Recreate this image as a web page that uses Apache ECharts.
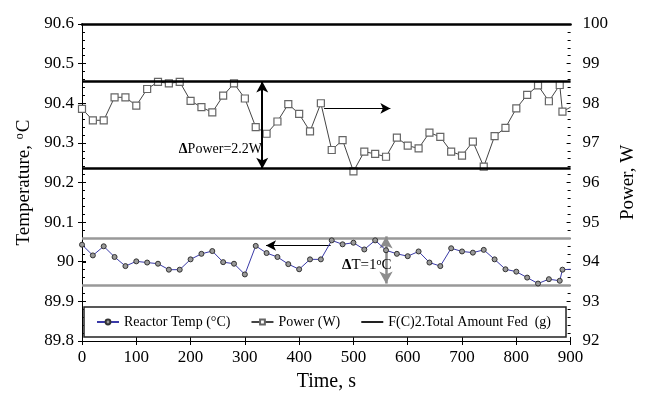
<!DOCTYPE html>
<html>
<head>
<meta charset="utf-8">
<script src="https://cdn.jsdelivr.net/npm/echarts@6/dist/echarts.min.js"></script>
<style>
  html, body { margin: 0; padding: 0; background: #fff; }
  #chart { width: 646px; height: 397px; }
</style>
</head>
<body>
<div id="chart"></div>
<script>
// Sample times (s)
const times = [0, 20, 40, 60, 80, 100, 120, 140, 160, 180,
  200, 220, 240, 260, 280, 300, 320, 340, 360, 380,
  400, 420, 440, 460, 480, 500, 520, 540, 560, 580,
  600, 620, 640, 660, 680, 700, 720, 740, 760, 780,
  800, 820, 840, 860, 880, 885, 900];

// Reactor temperature (°C), left axis
const reactorTemp = [90.043, 90.016, 90.039, 90.012, 89.989, 90.001, 89.998, 89.995, 89.980, 89.980,
  90.006, 90.020, 90.027, 89.999, 89.995, 89.968, 90.040, 90.022, 90.012, 89.994,
  89.981, 90.006, 90.006, 90.054, 90.044, 90.048, 90.031, 90.054, 90.029, 90.020,
  90.014, 90.026, 89.998, 89.989, 90.034, 90.026, 90.023, 90.030, 90.006, 89.981,
  89.975, 89.960, 89.945, 89.956, 89.952, 89.980, 89.981];

// Heater power (W), right axis
const power = [97.86, 97.57, 97.57, 98.15, 98.15, 97.94, 98.36, 98.54, 98.50, 98.54,
  98.06, 97.90, 97.77, 98.19, 98.50, 98.12, 97.40, 97.23, 97.54, 97.98,
  97.73, 97.29, 98.00, 96.82, 97.07, 96.28, 96.78, 96.72, 96.65, 97.13,
  96.93, 96.86, 97.26, 97.15, 96.78, 96.68, 97.03, 96.40, 97.17, 97.38,
  97.87, 98.21, 98.45, 98.05, 98.46, 97.79, 97.90];

// Tick labels
const timeTickLabels = ['0', '100', '200', '300', '400', '500', '600', '700', '800', '900'];
const tempTickLabels = ['89.8', '89.9', '90', '90.1', '90.2', '90.3', '90.4', '90.5', '90.6'];
const powerTickLabels = ['92', '93', '94', '95', '96', '97', '98', '99', '100'];

// Band limits
const powerBand = [98.55, 96.35];   // W
const tempBand = [90.064, 89.945];  // °C

// Annotation arrows: [from time, to time, level]
const powerPointer = [446, 568, 97.87];
const tempPointer = [458, 339, 90.041];
const powerSpanTime = 332;
const tempSpanTime = 560;

const seriesNames = ['Reactor Temp (°C)', 'Power (W)', 'F(C)2.Total Amount Fed  (g)'];

const FONT = 'Liberation Serif';

const tempData = times.map((t, i) => i === times.length - 1
  ? { value: [t, reactorTemp[i]], symbol: 'none' }
  : [t, reactorTemp[i]]);
const powerData = times.map((t, i) => i === times.length - 1
  ? { value: [t, power[i]], symbol: 'none' }
  : [t, power[i]]);

const chart = echarts.init(document.getElementById('chart'), null, { renderer: 'canvas' });

const tickColor = '#000';

const option = {
  animation: false,
  backgroundColor: '#fff',
  grid: { left: 82, right: 57, top: 24, bottom: 52, containLabel: false },
  legend: {
    data: [
      { name: seriesNames[0] },
      { name: seriesNames[1] },
      { name: seriesNames[2], itemStyle: { opacity: 0 } }
    ],
    left: 84,
    top: 307,
    itemWidth: 22,
    itemHeight: 6,
    itemGap: 20,
    padding: [8, 15, 8, 12],
    borderColor: '#222',
    borderWidth: 1.5,
    backgroundColor: '#fff',
    textStyle: { fontFamily: FONT, fontSize: 14, color: '#000' }
  },
  xAxis: [
    {
      type: 'value', min: 0, max: 900, interval: 100, position: 'bottom',
      axisLine: { lineStyle: { color: tickColor, width: 1 } },
      axisTick: { show: true, length: 4, lineStyle: { color: tickColor } },
      axisLabel: {
        fontFamily: FONT, fontSize: 17, color: '#000', margin: 8,
        formatter: v => timeTickLabels[Math.round(v / 100)]
      },
      splitLine: { show: false },
      name: 'Time, s', nameLocation: 'middle', nameGap: 31,
      nameTextStyle: { fontFamily: FONT, fontSize: 20, color: '#000' }
    },
    {
      type: 'value', min: 0, max: 900, interval: 100, position: 'bottom',
      axisLine: { show: false },
      axisTick: { show: true, inside: true, length: 4, lineStyle: { color: tickColor } },
      axisLabel: { show: false }, splitLine: { show: false }
    },
    {
      type: 'value', min: 0, max: 900, interval: 100, position: 'top',
      axisLine: { lineStyle: { color: '#000', width: 2.5 } },
      axisTick: { show: false }, axisLabel: { show: false }, splitLine: { show: false }
    }
  ],
  yAxis: [
    {
      type: 'value', min: 89.8, max: 90.6, interval: 0.1, position: 'left',
      axisLine: { show: true, lineStyle: { color: tickColor, width: 1 } },
      axisTick: { show: true, length: 4, lineStyle: { color: tickColor } },
      axisLabel: {
        fontFamily: FONT, fontSize: 17, color: '#000', margin: 8,
        formatter: v => tempTickLabels[Math.round((v - 89.8) / 0.1)]
      },
      splitLine: { show: false },
      name: '{n|Temperature, }{s|o}{n|C}', nameLocation: 'middle', nameGap: 45, nameRotate: 90,
      nameTextStyle: {
        fontFamily: FONT, fontSize: 19, color: '#000',
        rich: {
          n: { fontFamily: FONT, fontSize: 19, color: '#000' },
          s: { fontFamily: FONT, fontSize: 12, color: '#000', verticalAlign: 'top', padding: [0, 1, 8, 1] }
        }
      }
    },
    {
      type: 'value', min: 92, max: 100, interval: 1, position: 'right',
      axisLine: { show: true, lineStyle: { color: tickColor, width: 1 } },
      axisTick: { show: true, length: 4, lineStyle: { color: tickColor } },
      axisLabel: {
        fontFamily: FONT, fontSize: 17, color: '#000', margin: 12,
        formatter: v => powerTickLabels[Math.round(v - 92)]
      },
      splitLine: { show: false },
      name: 'Power, W', nameLocation: 'middle', nameGap: 38, nameRotate: 90,
      nameTextStyle: { fontFamily: FONT, fontSize: 19, color: '#000' }
    },
    {
      type: 'value', min: 89.8, max: 90.6, interval: 0.1, position: 'left',
      axisLine: { show: false },
      axisTick: { show: true, inside: true, length: 4, lineStyle: { color: tickColor } },
      minorTick: { show: true, splitNumber: 5, length: 3, lineStyle: { color: tickColor } },
      axisLabel: { show: false }, splitLine: { show: false }
    },
    {
      type: 'value', min: 92, max: 100, interval: 1, position: 'right',
      axisLine: { show: false },
      axisTick: { show: true, inside: true, length: 4, lineStyle: { color: tickColor } },
      minorTick: { show: true, splitNumber: 5, length: 3, lineStyle: { color: tickColor } },
      axisLabel: { show: false }, splitLine: { show: false }
    }
  ],
  graphic: [
    {
      type: 'text', x: 262, y: 149, z: 50,
      style: {
        text: '{d|Δ}Power=' + (powerBand[0] - powerBand[1]).toFixed(1) + 'W',
        align: 'right', verticalAlign: 'middle',
        font: '14px "Liberation Serif"', fill: '#000',
        rich: {
          d: { fontFamily: FONT, fontSize: 14, fontWeight: 'bold', fill: '#000' }
        }
      }
    },
    {
      type: 'text', x: 342, y: 265, z: 50,
      style: {
        text: '{d|Δ}T=1{s|o}C',
        align: 'left', verticalAlign: 'middle',
        font: '15px "Liberation Serif"', fill: '#000',
        rich: {
          d: { fontFamily: FONT, fontSize: 15, fontWeight: 'bold', fill: '#000' },
          s: { fontFamily: FONT, fontSize: 10, fill: '#000', verticalAlign: 'top', padding: [0, 0, 6, 0] }
        }
      }
    }
  ],
  series: [
    {
      name: seriesNames[0], type: 'line', xAxisIndex: 0, yAxisIndex: 0,
      data: tempData,
      symbol: 'circle', symbolSize: 5,
      lineStyle: { color: '#3a3aa8', width: 1 },
      itemStyle: { color: '#9a9a9a', borderColor: '#333', borderWidth: 1 },
      z: 5,
      markLine: {
        silent: true, symbol: ['none', 'none'], label: { show: false },
        data: [
          { yAxis: tempBand[0], lineStyle: { color: '#999', width: 2.5, type: 'solid' } },
          { yAxis: tempBand[1], lineStyle: { color: '#999', width: 2.5, type: 'solid' } },
          [
            { coord: [tempPointer[0], tempPointer[2]], symbol: 'none' },
            { coord: [tempPointer[1], tempPointer[2]], symbol: 'arrow', symbolSize: [8, 10] }
          ].map(p => Object.assign(p, { lineStyle: { color: '#000', width: 1, type: 'solid' } })),
          [
            { coord: [tempSpanTime, tempBand[0]], symbol: 'arrow', symbolSize: [10, 12] },
            { coord: [tempSpanTime, tempBand[1]], symbol: 'arrow', symbolSize: [10, 12] }
          ].map(p => Object.assign(p, { lineStyle: { color: '#8c8c8c', width: 2.5, type: 'solid' } }))
        ]
      }
    },
    {
      name: seriesNames[1], type: 'line', xAxisIndex: 0, yAxisIndex: 1,
      data: powerData,
      symbol: 'rect', symbolSize: 7,
      lineStyle: { color: '#444', width: 1 },
      itemStyle: { color: '#fff', borderColor: '#666', borderWidth: 1.2 },
      z: 4,
      markLine: {
        silent: true, symbol: ['none', 'none'], label: { show: false },
        data: [
          { yAxis: powerBand[0], lineStyle: { color: '#000', width: 2.5, type: 'solid' } },
          { yAxis: powerBand[1], lineStyle: { color: '#000', width: 2.5, type: 'solid' } },
          [
            { coord: [powerPointer[0], powerPointer[2]], symbol: 'none' },
            { coord: [powerPointer[1], powerPointer[2]], symbol: 'arrow', symbolSize: [8, 10] }
          ].map(p => Object.assign(p, { lineStyle: { color: '#000', width: 1, type: 'solid' } })),
          [
            { coord: [powerSpanTime, powerBand[0]], symbol: 'arrow', symbolSize: [9, 11] },
            { coord: [powerSpanTime, powerBand[1]], symbol: 'arrow', symbolSize: [9, 11] }
          ].map(p => Object.assign(p, { lineStyle: { color: '#000', width: 2, type: 'solid' } }))
        ]
      }
    },
    {
      name: seriesNames[2], type: 'line', xAxisIndex: 0, yAxisIndex: 1,
      data: [], symbol: 'none',
      lineStyle: { color: '#222', width: 1 },
      itemStyle: { color: '#222' }
    }
  ]
};

chart.setOption(option);
</script>
</body>
</html>
